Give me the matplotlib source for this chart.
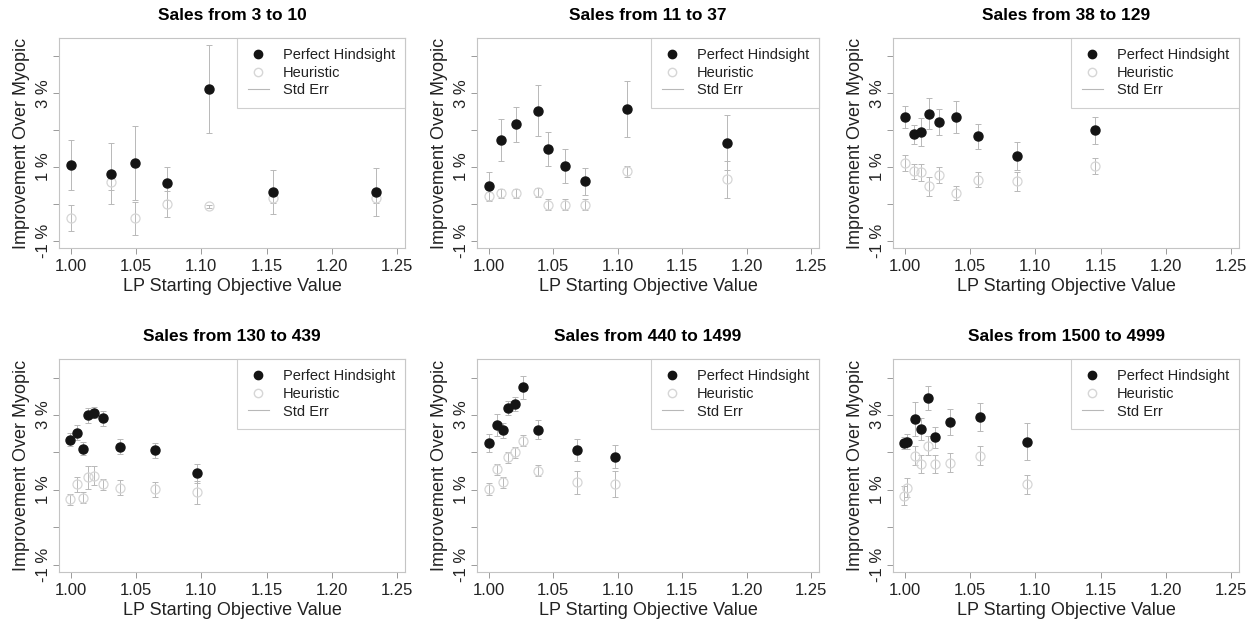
import matplotlib
matplotlib.use("Agg")
import matplotlib.pyplot as plt
from matplotlib.lines import Line2D

plt.rcParams['font.family'] = ['Liberation Sans', 'DejaVu Sans']

# -----------------------------
# Data
# -----------------------------
titles = ["Sales from 3 to 10", "Sales from 11 to 37", "Sales from 38 to 129",
          "Sales from 130 to 439", "Sales from 440 to 1499", "Sales from 1500 to 4999"]

p1_x = [1.000, 1.031, 1.049, 1.074, 1.106, 1.155, 1.234]
p1_ph = [1.05, 0.82, 1.11, 0.56, 3.11, 0.33, 0.33]
p1_ph_err = [0.67, 0.83, 1.00, 0.45, 1.19, 0.60, 0.65]
p1_he = [-0.39, 0.58, -0.39, 0.00, -0.07, 0.17, 0.17]
p1_he_err = [0.35, 0.20, 0.45, 0.35, 0.05, 0.15, 0.15]

p2_x = [1.0002, 1.0097, 1.0215, 1.0379, 1.0464, 1.0595, 1.0748, 1.1073, 1.1845]
p2_ph = [0.48, 1.72, 2.16, 2.53, 1.49, 1.02, 0.61, 2.56, 1.66]
p2_ph_err = [0.37, 0.57, 0.47, 0.69, 0.47, 0.46, 0.36, 0.76, 0.75]
p2_he = [0.20, 0.29, 0.29, 0.31, -0.03, -0.03, -0.03, 0.88, 0.67]
p2_he_err = [0.12, 0.12, 0.12, 0.12, 0.15, 0.15, 0.15, 0.15, 0.50]

p3_x = [1.000, 1.0071, 1.0123, 1.0189, 1.0264, 1.0394, 1.0563, 1.0858, 1.1455]
p3_ph = [2.35, 1.89, 1.95, 2.45, 2.22, 2.35, 1.83, 1.29, 1.99]
p3_ph_err = [0.30, 0.26, 0.37, 0.43, 0.34, 0.43, 0.34, 0.38, 0.36]
p3_he = [1.11, 0.88, 0.85, 0.47, 0.79, 0.29, 0.65, 0.61, 1.03]
p3_he_err = [0.22, 0.20, 0.22, 0.25, 0.22, 0.20, 0.20, 0.25, 0.22]

p4_x = [0.9995, 1.0046, 1.0092, 1.0130, 1.0181, 1.0247, 1.0375, 1.0643, 1.0969]
p4_ph = [2.34, 2.53, 2.10, 3.00, 3.06, 2.91, 2.15, 2.06, 1.44]
p4_ph_err = [0.17, 0.20, 0.17, 0.20, 0.15, 0.20, 0.20, 0.20, 0.25]
p4_he = [0.75, 1.15, 0.79, 1.33, 1.38, 1.15, 1.06, 1.02, 0.93]
p4_he_err = [0.15, 0.20, 0.15, 0.30, 0.25, 0.15, 0.20, 0.20, 0.30]

p5_x = [1.0002, 1.0064, 1.0108, 1.0154, 1.0203, 1.0268, 1.0384, 1.0681, 1.0979]
p5_ph = [2.25, 2.73, 2.59, 3.19, 3.29, 3.74, 2.61, 2.06, 1.89]
p5_ph_err = [0.25, 0.30, 0.20, 0.18, 0.18, 0.30, 0.25, 0.30, 0.30]
p5_he = [1.02, 1.55, 1.20, 1.87, 2.00, 2.31, 1.51, 1.20, 1.15]
p5_he_err = [0.15, 0.15, 0.15, 0.15, 0.15, 0.15, 0.15, 0.30, 0.35]

p6_x = [0.9995, 1.0020, 1.0079, 1.0127, 1.0181, 1.0235, 1.0350, 1.0573, 1.0934]
p6_ph = [2.25, 2.29, 2.89, 2.62, 3.46, 2.40, 2.82, 2.95, 2.29]
p6_ph_err = [0.15, 0.20, 0.45, 0.30, 0.33, 0.28, 0.35, 0.38, 0.50]
p6_he = [0.84, 1.06, 1.91, 1.69, 2.18, 1.69, 1.73, 1.91, 1.15]
p6_he_err = [0.25, 0.25, 0.25, 0.25, 0.25, 0.25, 0.25, 0.25, 0.25]

x_ticks = [1.00, 1.05, 1.10, 1.15, 1.20, 1.25]
y_ticks = [-1, 0, 1, 2, 3, 4]
y_tick_labels = ["-1 %", "", "1 %", "", "3 %", ""]

panels = [
    (p1_x, p1_ph, p1_ph_err, p1_he, p1_he_err),
    (p2_x, p2_ph, p2_ph_err, p2_he, p2_he_err),
    (p3_x, p3_ph, p3_ph_err, p3_he, p3_he_err),
    (p4_x, p4_ph, p4_ph_err, p4_he, p4_he_err),
    (p5_x, p5_ph, p5_ph_err, p5_he, p5_he_err),
    (p6_x, p6_ph, p6_ph_err, p6_he, p6_he_err),
]

W, H = 1251, 623
ERR_COLOR = "#b8b8b8"
HEUR_COLOR = "#d6d6d6"
FRAME_COLOR = "#c4c4c4"
TEXT_COLOR = "#222222"

# axes boxes in pixels: (left, top, right, bottom)
boxes = [
    (59, 38, 405, 248), (477, 38, 819, 248), (893, 38, 1239, 248),
    (59, 359, 405, 572), (477, 359, 819, 572), (893, 359, 1239, 572),
]


# -----------------------------
# One panel
# -----------------------------
def draw_panel(ax, title, x, ph, ph_err, he, he_err):
    ax.errorbar(x, he, yerr=he_err, fmt="none", ecolor=ERR_COLOR,
                elinewidth=0.7, capsize=2, capthick=0.7, zorder=1)
    ax.errorbar(x, ph, yerr=ph_err, fmt="none", ecolor=ERR_COLOR,
                elinewidth=0.7, capsize=2, capthick=0.7, zorder=1)
    ax.plot(x, he, "o", ms=6.5, mfc="none", mec=HEUR_COLOR, mew=0.9, zorder=2)
    ax.plot(x, ph, "o", ms=6.5, color="#141414", zorder=3)

    ax.set_xlim(0.991, 1.256)
    ax.set_ylim(-1.2, 4.5)
    ax.set_xticks(x_ticks)
    ax.set_xticklabels([f"{t:.2f}" for t in x_ticks])
    ax.set_yticks(y_ticks)
    ax.set_yticklabels(y_tick_labels, rotation=90, va="center")

    for s in ax.spines.values():
        s.set_color(FRAME_COLOR)
        s.set_linewidth(0.8)
    ax.tick_params(length=4, width=0.7, color="#9a9a9a", labelsize=12,
                   labelcolor=TEXT_COLOR, pad=4)
    ax.tick_params(axis="y", pad=2)

    ax.set_title(title, fontsize=12.5, fontweight="bold", pad=13)
    ax.set_xlabel("LP Starting Objective Value", fontsize=13, color=TEXT_COLOR, labelpad=3)
    ax.set_ylabel("Improvement Over Myopic", fontsize=13, color=TEXT_COLOR, labelpad=4)

    handles = [
        Line2D([], [], ls="none", marker="o", ms=6, color="#141414"),
        Line2D([], [], ls="none", marker="o", ms=6, mfc="none", mec=HEUR_COLOR),
        Line2D([], [], color=ERR_COLOR, lw=0.8),
    ]
    leg = ax.legend(handles, ["Perfect Hindsight", "Heuristic", "Std Err"],
                    loc="upper right", borderaxespad=0, fontsize=10.5,
                    frameon=True, fancybox=False, labelspacing=0.25,
                    handlelength=1.5, handletextpad=0.9, borderpad=0.7)
    leg.get_frame().set_edgecolor(FRAME_COLOR)
    leg.get_frame().set_linewidth(0.8)
    for t in leg.get_texts():
        t.set_color(TEXT_COLOR)


# -----------------------------
# Main
# -----------------------------
def main():
    fig = plt.figure(figsize=(W / 100, H / 100), dpi=100)
    for (l, t, r, b), title, data in zip(boxes, titles, panels):
        ax = fig.add_axes([l / W, 1 - b / H, (r - l) / W, (b - t) / H])
        draw_panel(ax, title, *data)
    fig.savefig("out.png", dpi=100)


if __name__ == "__main__":
    main()
